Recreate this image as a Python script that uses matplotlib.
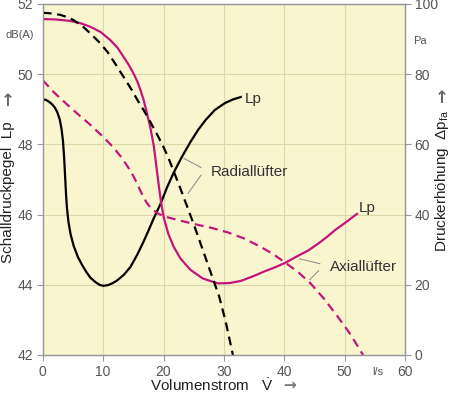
import matplotlib
matplotlib.use("Agg")
import matplotlib.pyplot as plt

plt.rcParams['font.family'] = ['Liberation Sans', 'DejaVu Sans']
plt.rcParams['mathtext.fontset'] = 'custom'
plt.rcParams['mathtext.rm'] = 'Liberation Sans'
plt.rcParams['mathtext.it'] = 'Liberation Sans'

# Radiallüfter: Schalldruckpegel Lp in dB(A)
rad_lp_x = [0, 0.5, 1.0, 1.5, 2.0, 2.4, 2.8, 3.1, 3.35, 3.55, 3.7, 3.85, 4.0, 4.25,
            4.6, 5.1, 5.8, 6.5, 7.2, 7.9, 8.7, 9.4, 10, 10.8, 11.5, 12.3, 13.4,
            14.5, 15.6, 16.7, 17.6, 18.4, 19.5, 20.6, 21.7, 23, 24.5, 25.8, 27,
            28.5, 30.2, 31.5, 32.8]
rad_lp_y = [49.28, 49.27, 49.22, 49.15, 49.05, 48.92, 48.72, 48.45, 48.1, 47.6,
            47.1, 46.6, 46.2, 45.8, 45.45, 45.12, 44.8, 44.57, 44.37, 44.2, 44.08,
            44.0, 43.97, 43.99, 44.04, 44.12, 44.28, 44.5, 44.84, 45.23, 45.58,
            45.9, 46.3, 46.78, 47.2, 47.63, 48.08, 48.43, 48.7, 48.98, 49.18,
            49.28, 49.35]

# Radiallüfter: Druckerhöhung in Pa
rad_p_x = [0, 1.5, 2.9, 4, 5.1, 6.5, 7.9, 9.3, 10.7, 12, 13.4, 14.6, 15.7, 16.7,
           17.6, 18.7, 19.8, 20.8, 21.7, 23, 24.5, 25.6, 26.7, 28, 29.2, 30.3, 31.5]
rad_p_y = [97.5, 97.3, 96.9, 96.3, 95.4, 93.8, 91.6, 89.2, 86.4, 83.0, 79.2, 75.9,
           72.6, 69.8, 67.1, 63.6, 60.0, 56.2, 52.3, 46.5, 39.6, 34.4, 29.0, 22.6,
           16.8, 9.5, 0]

# Axiallüfter: Schalldruckpegel Lp in dB(A)
ax_lp_x = [0, 2, 4.5, 6.3, 7.9, 9.6, 11.2, 12.4, 13.4, 14.3, 15.1, 15.7, 16.2,
           16.7, 17.2, 17.8, 18.4, 18.8, 19.2, 19.6, 20.05, 20.8, 21.7, 22.8, 24.5,
           26.5, 29, 31, 32.8, 34.8, 36.7, 38.5, 40.1, 42, 44, 45.6, 47.05, 48.5,
           50.2, 52.05]
ax_lp_y = [51.57, 51.56, 51.52, 51.45, 51.35, 51.2, 50.97, 50.75, 50.49, 50.25,
           50.0, 49.78, 49.54, 49.27, 48.93, 48.5, 47.95, 47.4, 46.85, 46.35,
           45.91, 45.45, 45.08, 44.75, 44.42, 44.18, 44.04, 44.05, 44.11, 44.24,
           44.38, 44.5, 44.62, 44.8, 44.98, 45.17, 45.36, 45.57, 45.78, 46.02]

# Axiallüfter: Druckerhöhung in Pa
ax_p_x = [0, 1.8, 3.5, 5.1, 7.6, 10.1, 11.6, 12.9, 14.1, 15.1, 15.8, 16.5, 17.2,
          18, 19, 20.05, 22.5, 25.1, 28, 30.7, 33.5, 36.2, 38.2, 40.1, 42.3, 44.3,
          46.5, 48.7, 51, 53.05]
ax_p_y = [78.3, 74.9, 72.2, 69.7, 66.0, 62.0, 59.3, 56.6, 53.6, 50.7, 48.2, 45.6,
          43.4, 41.7, 40.4, 39.5, 38.4, 37.3, 36.2, 34.9, 33.1, 30.7, 28.7, 26.4,
          23.6, 20.5, 16.2, 11.3, 5.8, 0]

x_ticks = [0, 10, 20, 30, 40, 50, 60]
lp_ticks = [42, 44, 46, 48, 50, 52]
p_ticks = [0, 20, 40, 60, 80, 100]

magenta = '#c4157c'
bg = '#f9f6cf'
grid_c = '#dcd8aa'
txt = '#333333'
tick_c = '#555555'

fig = plt.figure(figsize=(4.5, 3.95), dpi=100)
ax = fig.add_axes([0.095, 0.1013, 0.805, 0.8886])
ax.set_facecolor(bg)
ax2 = ax.twinx()

ax.set_xlim(0, 60)
ax.set_ylim(42, 52)
ax2.set_ylim(0, 100)
ax.set_xticks(x_ticks)
ax.set_yticks(lp_ticks)
ax2.set_yticks(p_ticks)

for v in x_ticks[1:-1]:
    ax.axvline(v, color=grid_c, lw=0.8, zorder=0)
for v in lp_ticks[1:-1]:
    ax.axhline(v, color=grid_c, lw=0.8, zorder=0)

ax.plot(rad_lp_x, rad_lp_y, color='black', lw=1.6, zorder=3)
ax.plot(ax_lp_x, ax_lp_y, color=magenta, lw=1.6, zorder=3)
ax2.plot(rad_p_x, rad_p_y, color='black', lw=1.6, dashes=(4, 2.5))
ax2.plot(ax_p_x, ax_p_y, color=magenta, lw=1.6, dashes=(4, 2.5))

for a in (ax, ax2):
    for s in a.spines.values():
        s.set_color('#999999')
        s.set_linewidth(0.9)
    a.tick_params(direction='out', length=4, width=0.8, color='#999999',
                  labelcolor=tick_c, labelsize=10, pad=3)

# annotations
ax.text(33.5, 49.3, 'Lp', fontsize=11, color=txt, va='center', ha='left')
ax.text(52.4, 46.2, 'Lp', fontsize=11, color=txt, va='center', ha='left')
ax.text(27.9, 47.22, 'Radiallüfter', fontsize=11, color=txt, va='center', ha='left')
ax.text(47.5, 44.5, 'Axiallüfter', fontsize=11, color=txt, va='center', ha='left')
ax.plot([26.2, 23.4], [47.34, 47.6], color='#888888', lw=0.7, zorder=4)
ax.plot([26.2, 24.05], [47.12, 46.6], color='#888888', lw=0.7, zorder=4)
ax.plot([45.9, 42.55], [44.6, 44.74], color='#888888', lw=0.7, zorder=4)
ax.plot([45.7, 44.2], [44.4, 44.14], color='#888888', lw=0.7, zorder=4)

# axis titles and units
fig.text(8 / 450, 1 - 192 / 395, 'Schalldruckpegel  Lp', rotation=90, fontsize=11,
         color='#222222', ha='center', va='center')
fig.text(8 / 450, 1 - 101 / 395, '↑', fontsize=12, color='#666666', ha='center',
         va='center', fontweight='bold', family=['DejaVu Sans'])
fig.text(442 / 450, 1 - 181 / 395, 'Druckerhöhung  Δp$_{\\mathrm{fa}}$', rotation=90,
         fontsize=11, color='#222222', ha='center', va='center')
fig.text(442 / 450, 1 - 98 / 395, '↑', fontsize=12, color='#666666', ha='center',
         va='center', fontweight='bold', family=['DejaVu Sans'])
fig.text(150 / 450, 1 - 386 / 395, 'Volumenstrom   $\\dot{\\mathrm{V}}$', fontsize=11,
         color='#222222', ha='left', va='center')
fig.text(289 / 450, 1 - 385 / 395, '→', fontsize=11, color='#777777', ha='center',
         va='center', fontweight='bold', family=['DejaVu Sans'])
fig.text(20 / 450, 1 - 35 / 395, 'dB(A)', fontsize=8, color=tick_c, ha='center', va='center')
fig.text(420 / 450, 1 - 41 / 395, 'Pa', fontsize=8, color=tick_c, ha='center', va='center')
fig.text(378 / 450, 1 - 372 / 395, 'l/s', fontsize=8, color=tick_c, ha='center', va='center')

fig.savefig('out.png', dpi=100)
